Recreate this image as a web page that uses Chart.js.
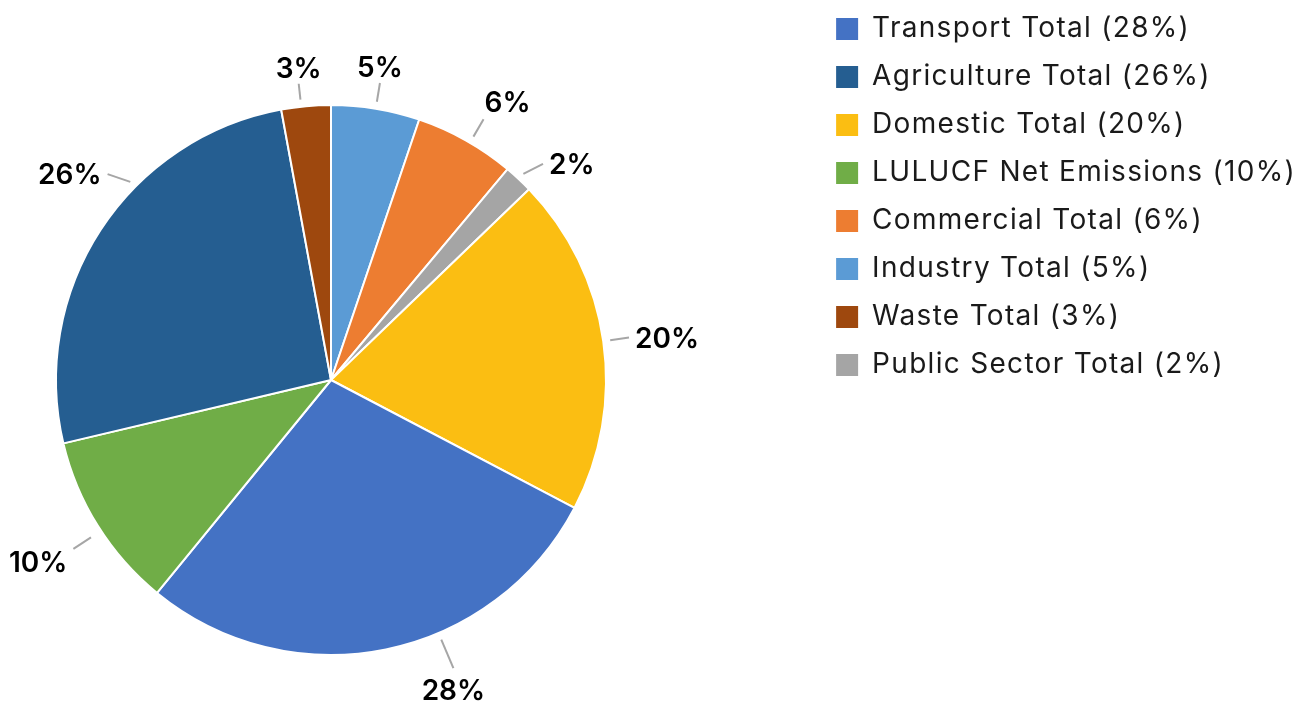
<!DOCTYPE html>
<html>
<head>
<meta charset="utf-8">
<script src="https://cdn.jsdelivr.net/npm/chart.js@4"></script>
<style>
  html, body { margin: 0; padding: 0; background: #fff; }
  #wrap { width: 1308px; height: 704px; }
</style>
</head>
<body>
<div id="wrap"><canvas id="pie"></canvas></div>
<script>
// slices in drawing order, clockwise from 12 o'clock
const sectors = ['Industry Total', 'Commercial Total', 'Public Sector Total', 'Domestic Total',
  'Transport Total', 'LULUCF Net Emissions', 'Agriculture Total', 'Waste Total'];
const shares = [5.2, 5.9, 1.7, 19.9, 28.2, 10.4, 25.8, 2.9];
const colours = ['#5B9BD5', '#ED7D31', '#A5A5A5', '#FBBE12', '#4472C4', '#70AD47', '#255E91', '#9E480E'];

const pct = v => Math.round(v) + '%';

// how Excel placed each data label:
// shift = nudge of the leader start (deg), gap = leader start beyond the rim, len = leader length,
// dir = leader direction on screen if it is not radial (deg), side = edge of the text the leader meets
const labelPlace = [
  { shift: 0, gap: 7, len: 19, side: 'bottom' },
  { shift: 1, gap: 7, len: 20, side: 'bottom-left' },
  { shift: 0, gap: 7, len: 22, dir: -27, side: 'left' },
  { shift: 0, gap: 7, len: 19, side: 'left' },
  { shift: -11.5, gap: 7, len: 31, side: 'top' },
  { shift: -1.2, gap: 12, len: 21, side: 'top-right' },
  { shift: 11.5, gap: 7, len: 24, dir: 199, side: 'right' },
  { shift: -1, gap: 7, len: 16, side: 'bottom' }
];

// keep the pie square on the left, legend stays on the right
const pieBox = {
  id: 'pieBox',
  beforeLayout(chart) {
    chart.ctx.letterSpacing = '1.3px';
  },
  beforeDraw(chart) {
    chart.ctx.letterSpacing = '1.3px';
  },
  afterLayout(chart, args, opts) {
    const a = chart.chartArea;
    a.top = opts.top;
    a.bottom = chart.height - opts.bottom;
    a.height = a.bottom - a.top;
    a.right = a.left + a.height;
    a.width = a.height;
  }
};

const outsideLabels = {
  id: 'outsideLabels',
  afterDatasetsDraw(chart) {
    const ctx = chart.ctx;
    const meta = chart.getDatasetMeta(0);
    ctx.save();
    ctx.letterSpacing = '0px';
    ctx.font = '600 28px Inter';
    ctx.textAlign = 'center';
    ctx.textBaseline = 'alphabetic';
    meta.data.forEach((arc, i) => {
      const {x, y, startAngle, endAngle, outerRadius} =
        arc.getProps(['x', 'y', 'startAngle', 'endAngle', 'outerRadius'], true);
      const pl = labelPlace[i];
      const a = (startAngle + endAngle) / 2 + pl.shift * Math.PI / 180;
      const r1 = outerRadius + pl.gap;
      const sx = x + Math.cos(a) * r1, sy = y + Math.sin(a) * r1;
      const d = pl.dir === undefined ? a : pl.dir * Math.PI / 180;
      const ex = sx + Math.cos(d) * pl.len, ey = sy + Math.sin(d) * pl.len;

      ctx.strokeStyle = '#A6A6A6';
      ctx.lineWidth = 2;
      ctx.beginPath();
      ctx.moveTo(sx, sy);
      ctx.lineTo(ex, ey);
      ctx.stroke();

      const txt = pct(shares[i]);
      const hw = ctx.measureText(txt).width / 2, hh = 10;
      let cx = ex, cy = ey;
      switch (pl.side) {
        case 'bottom': cy -= hh + 6; break;
        case 'top': cy += hh + 12; break;
        case 'left': cx += hw + 6; break;
        case 'right': cx -= hw + 6; break;
        case 'bottom-left': cx += hw + 1; cy -= hh + 7; break;
        case 'top-right': cx -= hw + 6; cy += hh + 3; break;
      }
      ctx.fillStyle = '#000';
      // cy is the middle of the digits
      ctx.fillText(txt, cx, cy + 10);
    });
    ctx.restore();
  }
};

const ctx = document.getElementById('pie');
const chartPie = new Chart(ctx, {
  type: 'pie',
  data: {
    labels: sectors,
    datasets: [{
      data: shares,
      backgroundColor: colours,
      borderColor: '#fff',
      borderWidth: 2
    }]
  },
  options: {
    responsive: true,
    maintainAspectRatio: false,
    animation: false,
    layout: {
      padding: { left: 55, top: -5, right: 2, bottom: 0 }
    },
    plugins: {
      pieBox: { top: 104, bottom: 48 },
      tooltip: { enabled: false },
      legend: {
        position: 'right',
        align: 'start',
        labels: {
          boxWidth: 22,
          boxHeight: 22,
          padding: 20,
          color: '#1a1a1a',
          font: { family: 'Inter', size: 28 },
          sort: (a, b) => shares[b.index] - shares[a.index],
          generateLabels: function(chart) {
            const base = Chart.overrides.pie.plugins.legend.labels.generateLabels(chart);
            return base.map(item => {
              item.text = sectors[item.index] + ' (' + pct(shares[item.index]) + ')';
              item.lineWidth = 0;
              return item;
            });
          }
        }
      }
    }
  },
  plugins: [pieBox, outsideLabels]
});
</script>
</body>
</html>
